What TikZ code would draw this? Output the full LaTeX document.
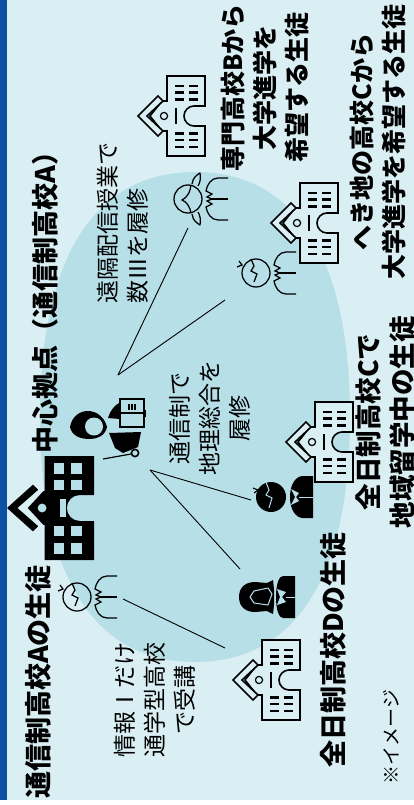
\documentclass[tikz,border=0pt]{standalone}
\usepackage{fontspec}
\setmainfont{Noto Sans CJK JP}
\definecolor{bgc}{HTML}{DAEFF3}
\definecolor{ell}{HTML}{B7DFE7}
\definecolor{barc}{HTML}{0B50A3}
\tikzset{
  boldlabel/.style={font=\bfseries\fontsize{25}{32}\selectfont,rotate=90,align=center,inner sep=0pt,text=black},
  bigbold/.style={font=\bfseries\fontsize{27}{34}\selectfont,rotate=90,align=center,inner sep=0pt,text=black},
  midbold/.style={font=\bfseries\fontsize{26.5}{34}\selectfont,rotate=90,align=center,inner sep=0pt,text=black},
  pluslabel/.style={font=\fontsize{23}{30}\selectfont,rotate=90,align=center,inner sep=0pt,text=black},
  link/.style={draw=black,line width=0.9pt},
  ink/.style={draw=black,line width=1.25pt,line join=miter},
  schooloutline/.pic={
    \filldraw[bgc,draw=black,line width=1.6pt,line join=miter] (12,0) -- (24,-15) -- (29,-15) -- (29,-40) -- (67,-40) -- (67,-10) -- (56,-10)
      .. controls (50.5,-10) and (46,-5.5) .. (46,0) .. controls (46,5.5) and (50.5,10) .. (56,10)
      -- (67,10) -- (67,40) -- (29,40) -- (29,15) -- (24,15) -- cycle;
    \filldraw[bgc,draw=black,line width=1.6pt,line join=miter] (0,0) -- (20,-20) -- (25,-15) -- (9,0) -- (25,15) -- (20,20) -- cycle;
    \draw[black,line width=1.2pt,fill=bgc] (26,0) circle (3.6);
    \draw[black,line width=2.6pt] (38,-8) -- (38,8);
    \foreach \yy in {-30,-23.5,-16.5,17.5,24,31}{
      \draw[black,line width=2.1pt] (37,\yy) -- (46,\yy);
      \draw[black,line width=2.1pt] (51,\yy) -- (60,\yy);
    }
  },
  schoolsolid/.pic={
    \fill[black] (16,0) -- (28,-13) -- (29,-13) -- (29,-40) -- (67,-40) -- (67,-10) -- (56,-10)
      .. controls (50.5,-10) and (46,-5.5) .. (46,0) .. controls (46,5.5) and (50.5,10) .. (56,10)
      -- (67,10) -- (67,40) -- (29,40) -- (29,13) -- (28,13) -- cycle;
    \fill[black] (0,0) -- (20,-18) -- (24,-14) -- (8,0) -- (24,14) -- (20,18) -- cycle;
    \fill[ell] (27,0) circle (3.4);
    \fill[ell] (40.5,-7) rectangle (45,7);
    \foreach \yy in {-34.6,-21.8,13.6,27}{
      \fill[ell] (36,\yy) rectangle (44,\yy+8.2);
      \fill[ell] (49.5,\yy) rectangle (58,\yy+8.2);
    }
  },
  bodyoutline/.pic={
    \draw[ink] (40,-21) -- (30,-21) .. controls (23,-21) and (19,-14) .. (18,-8)
      -- (24,-5) -- (19,-2) -- (24,0) -- (19,2) -- (24,5) -- (18,8)
      .. controls (19,14) and (23,21) .. (30,21) -- (40,21);
    \draw[ink] (23,0) -- (40,0);
  },
  boyoutline/.pic={
    \draw[ink] (0,0) circle (14);
    \draw[ink] (-5,-14) -- (-2,-7) -- (-5,-2) -- (1,1) -- (-2,9);
    \draw[ink] (-17,-12) -- (-14,-8) -- (-19,-6);
    \path pic {bodyoutline};
  },
  girloutline/.pic={
    \draw[ink] (0,0) circle (14);
    \draw[ink] (3,-14) .. controls (2,-8) and (1,-3) .. (-6,1) .. controls (-1,3) and (2,8) .. (3,14);
    \draw[ink,line join=round] (4,-15) .. controls (5,-22) and (9,-24) .. (12,-26) .. controls (13,-21) and (12,-16) .. (10,-13);
    \draw[ink,line join=round] (4,15) .. controls (5,22) and (9,24) .. (12,26) .. controls (13,21) and (12,16) .. (10,13);
    \path pic {bodyoutline};
  },
  boysolid/.pic={
    \fill[black] (0,0) circle (15);
    \draw[ell,line width=1pt] (-5,-15) -- (-2,-7) -- (-5,-2) -- (1,1) -- (-2,11);
    \draw[black,line width=1.1pt] (-18,-9) -- (-13,-7) -- (-17,-4);
    \fill[black] (42,-21) -- (32,-21) .. controls (25,-21) and (19,-13) .. (19,0)
       .. controls (19,13) and (25,21) .. (32,21) -- (42,21) -- cycle;
    \fill[ell] (20,-8) -- (28,-4) -- (25,0) -- (28,4) -- (20,8) -- (24,0) -- cycle;
    \draw[ell,line width=0.9pt] (28,0) -- (42,0);
  },
  girlsolid/.pic={
    \fill[black] (-20,0) .. controls (-20,-11) and (-12,-15) .. (-4,-15) -- (8,-14) -- (14,-17) -- (15,-8) -- (15,8) -- (14,17) -- (8,14) -- (-4,15)
      .. controls (-12,15) and (-20,11) .. (-20,0) -- cycle;
    \draw[ell,line width=1pt,line join=round] (-5,-6) -- (9,-9) -- (13,-3) -- (9,8) -- (-5,6) -- (-9,0) -- cycle;
    \fill[black] (36,-21) -- (24,-21) .. controls (20,-21) and (17,-13) .. (17,0)
       .. controls (17,13) and (20,21) .. (24,21) -- (36,21) -- cycle;
    \fill[ell] (18,-8) -- (27,-5) -- (23,0) -- (27,5) -- (18,8) -- (21,0) -- cycle;
    \draw[ell,line width=0.9pt] (27,0) -- (36,0);
  },
  teacher/.pic={
    \fill[black] (70,427) .. controls (72,416) and (80,411) .. (88,411) .. controls (97,411) and (105,418) .. (107,427)
       .. controls (105,436) and (97,439) .. (90,439) .. controls (80,439) and (72,436) .. (70,427) -- cycle;
    \fill[ell] (94,426.5) circle (9);
    \fill[black] (108,418) .. controls (110,411) and (114,406) .. (119,403) -- (120,419) -- cycle;
    \fill[black] (109,433) -- (141,432) -- (138,447) -- (123,453) -- (115,448) -- cycle;
    \draw[black,line width=1.6pt,fill=ell] (120,399) rectangle (144,427);
    \draw[black,line width=1.2pt] (120,413) -- (144,413);
    \fill[black] (144,410) rectangle (146,417);
    \fill[black] (128,404) rectangle (130,410);
    \fill[black] (131,404) rectangle (133,410);
    \fill[black] (134,404) rectangle (135.5,410);
    \draw[black,line width=1.2pt] (103,459) -- (131,454);
    \draw[black,line width=1.6pt,fill=ell] (135,453) circle (3.6);
  }
}
\begin{document}
\begin{tikzpicture}[x=1pt,y=-1pt]
\useasboundingbox (0,0) rectangle (414,805);
\fill[white] (0,0) rectangle (414,805);
\fill[bgc] (0,0) rectangle (414,800);
\fill[barc] (0,0) rectangle (7,800);
\fill[ell] (40,417) .. controls (40,258) and (94,172) .. (195,172)
  .. controls (296,172) and (350,258) .. (350,417)
  .. controls (350,576) and (296,662) .. (195,662)
  .. controls (94,662) and (40,576) .. (40,417) -- cycle;

% schools
\path pic[scale=1.3] at (7,508) {schoolsolid};
\path pic at (233,680) {schooloutline};
\path pic at (286,442) {schooloutline};
\path pic at (138,116) {schooloutline};
\path pic at (271,223) {schooloutline};

% people
\path pic at (77,597) {boyoutline};
\path pic at (256,273) {boyoutline};
\path pic at (188,199) {girloutline};
\path pic at (271,497) {boysolid};
\path pic at (259,597) {girlsolid};
\path pic {teacher};

% connectors
\coordinate (hubtop) at (118,375);
\coordinate (hubmid) at (150,470);
\coordinate (hubA) at (123,599);
\coordinate (girlB) at (188,228);
\coordinate (boyC) at (225,300);
\coordinate (girlD) at (240,569);
\coordinate (boyCd) at (251,500);
\coordinate (schoolD) at (225,648);
\draw[link] (hubtop) -- (girlB);
\draw[link] (hubtop) -- (boyC);
\draw[link] (hubmid) -- (girlD);
\draw[link] (hubmid) -- (boyCd);
\draw[link] (hubA) -- (schoolD);

% labels
\node[bigbold] (la) at (38,682) {通信制高校Aの生徒};
\node[bigbold] (lb) at (45,296) {中心拠点（通信制高校A）};
\node[bigbold] (lc) at (333,650) {全日制高校Dの生徒};
\node[midbold] (ld) at (385,422) {全日制高校Cで\\地域留学中の生徒};
\node[boldlabel] (le) at (265,88) {専門高校Bから\\大学進学を\\希望する生徒};
\node[boldlabel] (lf) at (378,142) {へき地の高校Cから\\大学進学を希望する生徒};
\node[pluslabel,align=left] (lg) at (123,223) {遠隔配信授業で\\数Ⅲを履修};
\node[pluslabel] (lh) at (210,418) {通信制で\\地理総合を\\履修};
\node[pluslabel] (li) at (155,700) {情報Ⅰだけ\\通学型高校\\で受講};
\node[font=\fontsize{19}{24}\selectfont,rotate=90,inner sep=0pt] (lj) at (391,737) {※イメージ};
\end{tikzpicture}
\end{document}
